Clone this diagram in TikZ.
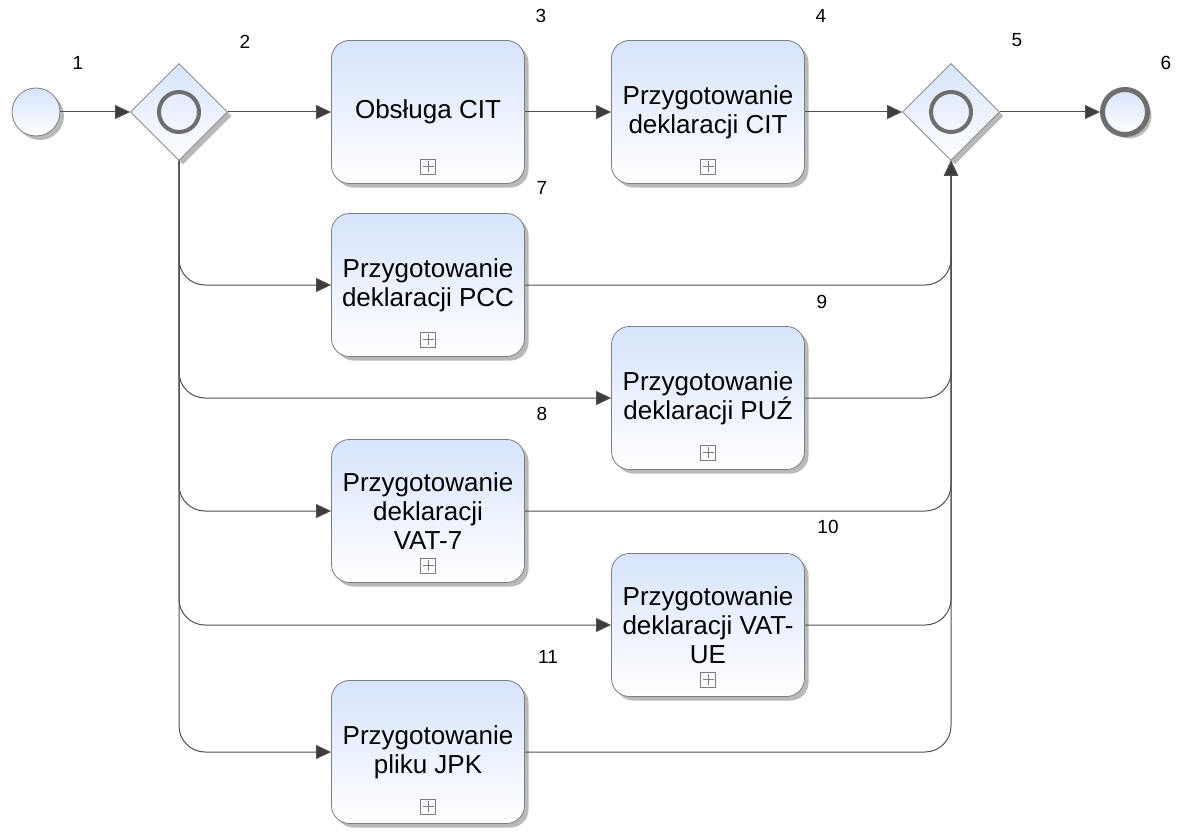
\documentclass[tikz,border=0pt]{standalone}
\usepackage{fontspec}
\setmainfont{Liberation Sans}
\usetikzlibrary{shapes.geometric,shadows,arrows.meta}
\definecolor{flowline}{RGB}{80,80,80}
\definecolor{tipfill}{RGB}{60,60,60}
\definecolor{edgegray}{RGB}{125,125,125}
\definecolor{ringgray}{RGB}{110,110,110}
\definecolor{shadegray}{RGB}{185,185,185}
\definecolor{topblue}{RGB}{215,228,252}
\begin{document}
\begin{tikzpicture}[x=1pt,y=-1pt,
  every node/.style={font=\fontsize{26}{29}\selectfont},
  bpmnshadow/.style={drop shadow={shadow xshift=4pt,shadow yshift=-4pt,fill=shadegray,opacity=1}},
  bpmnfill/.style={top color=topblue,bottom color=white,draw=edgegray,line width=0.8pt},
  markline/.style={draw=edgegray,line width=0.7pt,sharp corners},
  task/.style={bpmnfill,bpmnshadow,rectangle,rounded corners=18pt,
    minimum width=193pt,minimum height=143pt,align=center,inner sep=0pt,
    path picture={
      \draw[markline] ([xshift=-7.5pt,yshift=9.5pt]path picture bounding box.south)
        rectangle ([xshift=7.5pt,yshift=24.5pt]path picture bounding box.south);
      \draw[markline] ([xshift=-5.5pt,yshift=17pt]path picture bounding box.south)
        -- ([xshift=5.5pt,yshift=17pt]path picture bounding box.south);
      \draw[markline] ([yshift=11.5pt]path picture bounding box.south)
        -- ([yshift=22.5pt]path picture bounding box.south);
    }},
  gateway/.style={bpmnfill,bpmnshadow,diamond,minimum width=97pt,minimum height=97pt,inner sep=0pt,
    path picture={\draw[ringgray,line width=4pt] (path picture bounding box.center) circle[radius=20pt];}},
  startevent/.style={bpmnfill,bpmnshadow,circle,minimum size=48pt,inner sep=0pt},
  endevent/.style={top color=topblue,bottom color=white,draw=ringgray,line width=5pt,
    bpmnshadow,circle,minimum size=45pt,inner sep=0pt},
  num/.style={font=\fontsize{19}{22}\selectfont,inner sep=0pt},
  flow/.style={draw=flowline,line width=1pt,rounded corners=26pt,
    -{Triangle[length=15pt,width=14pt,fill=tipfill]}}
]
\fill[white] (0,0) rectangle (1177,832);
\useasboundingbox (0,0) rectangle (1177,832);

% events and gateways
\node[startevent] (start) at (36,112) {};
\node[gateway] (split) at (179,112) {};
\node[gateway] (join) at (951,112) {};
\node[endevent] (finish) at (1125,112) {};

% tasks
\node[task] (cit)    at (428,112) {Obsługa CIT};
\node[task] (citdec) at (708,112) {Przygotowanie\\deklaracji CIT};
\node[task] (pcc)    at (428,285) {Przygotowanie\\deklaracji PCC};
\node[task] (puz)    at (708,398) {Przygotowanie\\deklaracji PUŹ};
\node[task] (vat7)   at (428,511) {Przygotowanie\\deklaracji\\VAT-7};
\node[task] (vatue)  at (708,625) {Przygotowanie\\deklaracji VAT-\\UE};
\node[task] (jpk)    at (428,752) {Przygotowanie\\pliku JPK};

% numbers
\node[num] (n1)  at (78,63)   {1};
\node[num] (n2)  at (245,42)  {2};
\node[num] (n3)  at (541,16)  {3};
\node[num] (n4)  at (821,16)  {4};
\node[num] (n5)  at (1017,40) {5};
\node[num] (n6)  at (1166,63) {6};
\node[num] (n7)  at (542,188) {7};
\node[num] (n9)  at (822,302) {9};
\node[num] (n8)  at (542,414) {8};
\node[num] (n10) at (828,527) {10};
\node[num] (n11) at (548,657) {11};

% sequence flows
\draw[flow] (start) -- (split);
\draw[flow] (split) -- (cit);
\draw[flow] (cit) -- (citdec);
\draw[flow] (citdec) -- (join);
\draw[flow] (join) -- (finish);
\draw[flow] (split.south) |- (pcc.west);
\draw[flow] (split.south) |- (puz.west);
\draw[flow] (split.south) |- (vat7.west);
\draw[flow] (split.south) |- (vatue.west);
\draw[flow] (split.south) |- (jpk.west);
\draw[flow] (pcc.east) -| (join.south);
\draw[flow] (puz.east) -| (join.south);
\draw[flow] (vat7.east) -| (join.south);
\draw[flow] (vatue.east) -| (join.south);
\draw[flow] (jpk.east) -| (join.south);
\end{tikzpicture}
\end{document}
